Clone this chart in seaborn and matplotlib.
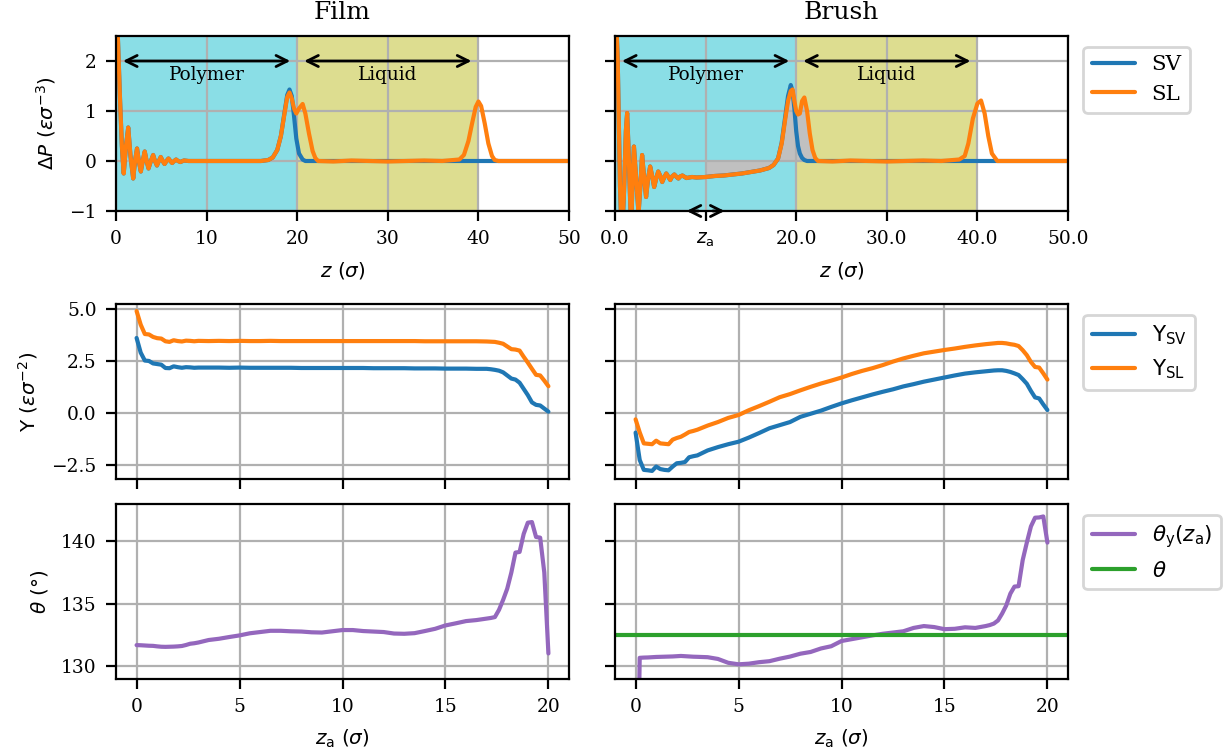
import matplotlib
matplotlib.use("Agg")
import matplotlib.pyplot as plt
import numpy as np
import seaborn as sns

# ---- pressure profiles, Delta P vs z (film) ----
film_z = [0.0, 0.2, 0.45, 0.65, 0.85, 1.1, 1.35, 1.6, 1.9, 2.1, 2.32, 2.52, 2.74, 2.95,
          3.17, 3.38, 3.59, 3.85, 4.1, 4.3, 4.52, 4.73, 4.94, 5.15, 5.36, 5.57, 5.79, 6.0,
          6.2, 6.42, 6.63, 6.85, 7.1, 7.5, 8.0, 10.0, 12.0, 14.0, 16.0, 16.8, 17.3, 17.8,
          18.2, 18.6, 18.9, 19.15, 19.4, 19.65, 19.9, 20.2, 20.6, 20.9, 21.3, 21.7, 22.0,
          22.3, 24.0, 26.0, 28.0, 30.0, 32.0, 34.0, 36.0, 37.9, 38.4, 38.9, 39.3, 39.7,
          40.0, 40.3, 40.7, 41.1, 41.5, 41.8, 42.2, 45.0, 50.0]
film_sl = [3.5, 2.5, 1.2, 0.3, -0.25, 0.3, 0.67, 0.1, -0.35, 0.0, 0.25, 0.0, -0.21, 0.0,
           0.19, 0.0, -0.15, 0.0, 0.12, 0.0, -0.09, 0.0, 0.08, 0.0, -0.06, 0.0, 0.05, 0.0,
           -0.04, 0.0, 0.03, 0.0, -0.02, 0.01, 0.0, 0.0, 0.0, 0.0, 0.0, 0.02, 0.07, 0.22,
           0.5, 0.95, 1.28, 1.37, 1.25, 1.05, 0.95, 1.05, 1.14, 0.95, 0.55, 0.2, 0.06,
           0.0, -0.01, 0.01, 0.0, -0.01, 0.0, 0.01, 0.0, 0.03, 0.12, 0.4, 0.75, 1.08,
           1.19, 1.1, 0.75, 0.35, 0.1, 0.02, 0.0, 0.0, 0.0]
film_sv = [3.5, 2.5, 1.2, 0.3, -0.25, 0.3, 0.67, 0.1, -0.35, 0.0, 0.25, 0.0, -0.21, 0.0,
           0.19, 0.0, -0.15, 0.0, 0.12, 0.0, -0.09, 0.0, 0.08, 0.0, -0.06, 0.0, 0.05, 0.0,
           -0.04, 0.0, 0.03, 0.0, -0.02, 0.01, 0.0, 0.0, 0.0, 0.0, 0.0, 0.02, 0.07, 0.22,
           0.5, 0.97, 1.32, 1.43, 1.3, 0.9, 0.45, 0.15, 0.03, 0.0, 0.0, 0.0, 0.0,
           0.0, 0.0, 0.0, 0.0, 0.0, 0.0, 0.0, 0.0, 0.0, 0.0, 0.0, 0.0, 0.0,
           0.0, 0.0, 0.0, 0.0, 0.0, 0.0, 0.0, 0.0, 0.0]

# ---- pressure profiles, Delta P vs z (brush) ----
brush_z = [0.0, 0.3, 0.55, 0.76, 1.0, 1.2, 1.34, 1.5, 1.78, 1.95, 2.09, 2.35, 2.6, 2.8,
           2.99, 3.2, 3.43, 3.65, 3.88, 4.1, 4.32, 4.55, 4.77, 5.0, 5.21, 5.45, 5.66, 5.9,
           6.1, 6.3, 6.55, 6.8, 7.0, 7.2, 7.44, 7.7, 7.89, 8.5, 9.0, 10.0, 11.0, 12.0,
           13.0, 14.0, 15.0, 16.0, 17.0, 17.5, 18.0, 18.4, 18.8, 19.1, 19.4, 19.6, 19.8,
           20.0, 20.2, 20.4, 20.65, 20.9, 21.2, 21.5, 21.8, 22.1, 22.4, 24.0, 26.0, 28.0,
           30.0, 32.0, 34.0, 36.0, 38.0, 38.6, 39.0, 39.5, 40.0, 40.4, 40.8, 41.2, 41.6,
           42.2, 45.0, 50.0]
brush_sl = [3.5, 2.0, -0.5, -1.6, -0.6, 0.6, 0.96, 0.2, -1.4, -0.3, 0.29, -0.4, -1.05, -0.5,
            0.12, -0.3, -0.72, -0.35, -0.11, -0.3, -0.52, -0.35, -0.21, -0.3, -0.42, -0.32, -0.25, -0.32,
            -0.38, -0.31, -0.27, -0.32, -0.35, -0.31, -0.29, -0.32, -0.34, -0.32, -0.33, -0.32, -0.30, -0.29,
            -0.27, -0.25, -0.22, -0.19, -0.14, -0.08, 0.05, 0.35, 0.85, 1.2, 1.4, 1.43, 1.2,
            1.0, 0.93, 0.95, 1.2, 1.27, 1.0, 0.55, 0.22, 0.06, 0.0, -0.01, 0.01, 0.0,
            -0.01, 0.0, 0.01, 0.0, 0.03, 0.1, 0.35, 0.85, 1.15, 1.21, 0.95, 0.5, 0.15,
            0.0, 0.0, 0.0]
brush_sv = [3.5, 2.0, -0.5, -1.6, -0.6, 0.6, 0.96, 0.2, -1.4, -0.3, 0.29, -0.4, -1.05, -0.5,
            0.12, -0.3, -0.72, -0.35, -0.11, -0.3, -0.52, -0.35, -0.21, -0.3, -0.42, -0.32, -0.25, -0.32,
            -0.38, -0.31, -0.27, -0.32, -0.35, -0.31, -0.29, -0.32, -0.34, -0.32, -0.33, -0.32, -0.30, -0.29,
            -0.27, -0.25, -0.22, -0.19, -0.14, -0.08, 0.05, 0.37, 0.9, 1.3, 1.52, 1.4, 1.05,
            0.6, 0.3, 0.15, 0.06, 0.02, 0.0, 0.0, 0.0, 0.0, 0.0, 0.0, 0.0, 0.0,
            0.0, 0.0, 0.0, 0.0, 0.0, 0.0, 0.0, 0.0, 0.0, 0.0, 0.0, 0.0, 0.0,
            0.0, 0.0, 0.0]

# regions marked on the profiles
regions = [("Polymer", 0, 20, "tab:cyan"), ("Liquid", 20, 40, "tab:olive")]
za_marker = 10.0
fill_end = 22.4

# ---- surface tensions and angles vs z_a ----
za = [0.0, 0.2, 0.4, 0.6, 0.8, 1.0, 1.2, 1.4, 1.6, 1.8, 2.0, 2.2, 2.4, 2.6, 2.8, 3.0,
      3.5, 4.0, 4.5, 5.0, 5.5, 6.0, 6.5, 7.0, 7.5, 8.0, 8.5, 9.0, 9.5, 10.0, 10.5, 11.0,
      11.5, 12.0, 12.5, 13.0, 13.5, 14.0, 14.5, 15.0, 15.5, 16.0, 16.5, 17.0,
      17.2, 17.4, 17.6, 17.8, 18.0, 18.2, 18.4, 18.6, 18.8, 19.0, 19.2, 19.4, 19.6, 19.8, 20.0]

film_ysl = [4.91, 4.25, 3.8, 3.78, 3.66, 3.6, 3.58, 3.45, 3.42, 3.5, 3.46, 3.44, 3.48, 3.47, 3.45, 3.47,
            3.46, 3.47, 3.46, 3.47, 3.46, 3.46, 3.47, 3.46, 3.46, 3.46, 3.46, 3.46, 3.46, 3.46, 3.46, 3.46,
            3.46, 3.46, 3.46, 3.46, 3.46, 3.45, 3.45, 3.45, 3.45, 3.45, 3.45, 3.44,
            3.43, 3.42, 3.38, 3.33, 3.2, 3.07, 3.05, 3.0, 2.7, 2.42, 2.12, 1.83, 1.8, 1.55, 1.28]
film_ysv = [3.61, 2.9, 2.52, 2.5, 2.38, 2.35, 2.32, 2.16, 2.15, 2.24, 2.2, 2.17, 2.2, 2.19, 2.17, 2.18,
            2.18, 2.18, 2.17, 2.18, 2.17, 2.17, 2.17, 2.17, 2.17, 2.16, 2.16, 2.16, 2.16, 2.16, 2.16, 2.16,
            2.15, 2.15, 2.15, 2.15, 2.14, 2.14, 2.14, 2.13, 2.13, 2.13, 2.12, 2.12,
            2.1, 2.07, 2.03, 1.95, 1.8, 1.65, 1.6, 1.45, 1.15, 0.85, 0.5, 0.38, 0.35, 0.2, 0.05]
brush_ysl = [-0.32, -0.95, -1.48, -1.5, -1.52, -1.35, -1.48, -1.5, -1.52, -1.3, -1.22, -1.16, -1.05, -0.93, -0.88, -0.82,
             -0.62, -0.45, -0.25, -0.11, 0.12, 0.32, 0.53, 0.75, 0.9, 1.08, 1.25, 1.41, 1.55, 1.7, 1.87, 2.02,
             2.15, 2.3, 2.47, 2.62, 2.75, 2.87, 2.95, 3.03, 3.1, 3.18, 3.25, 3.31,
             3.33, 3.35, 3.37, 3.37, 3.35, 3.31, 3.28, 3.22, 3.02, 2.78, 2.45, 2.21, 2.18, 1.9, 1.6]
brush_ysv = [-0.96, -2.28, -2.76, -2.78, -2.81, -2.6, -2.72, -2.76, -2.78, -2.6, -2.44, -2.42, -2.38, -2.15, -2.1, -2.06,
             -1.82, -1.66, -1.52, -1.4, -1.2, -0.98, -0.75, -0.6, -0.45, -0.2, -0.05, 0.1, 0.28, 0.45, 0.6, 0.74,
             0.88, 1.01, 1.13, 1.27, 1.38, 1.5, 1.6, 1.7, 1.8, 1.89, 1.95, 2.0,
             2.02, 2.04, 2.05, 2.05, 2.02, 1.97, 1.9, 1.82, 1.62, 1.4, 1.05, 0.74, 0.69, 0.4, 0.13]

film_theta = [131.67, 131.66, 131.64, 131.62, 131.61, 131.57, 131.54, 131.53, 131.54, 131.55, 131.57, 131.6,
              131.68, 131.78, 131.82, 131.88,
              132.08, 132.18, 132.32, 132.45, 132.62, 132.72, 132.82, 132.82, 132.78, 132.76, 132.7, 132.68,
              132.78, 132.88, 132.88, 132.8, 132.76, 132.72, 132.6, 132.58, 132.63, 132.8, 132.98, 133.25,
              133.42, 133.6, 133.68, 133.8,
              133.85, 133.92, 134.5, 135.3, 136.2, 137.5, 139.1, 139.15, 140.6, 141.5, 141.55, 140.35,
              140.3, 137.5, 131.0]
brush_theta = [110.0, 130.65, 130.67, 130.68, 130.7, 130.72, 130.73, 130.74, 130.75, 130.76, 130.78, 130.8,
               130.78, 130.76, 130.74, 130.73,
               130.7, 130.56, 130.25, 130.13, 130.18, 130.3, 130.38, 130.58, 130.75, 130.98, 131.12, 131.4,
               131.58, 132.0, 132.15, 132.3, 132.45, 132.58, 132.68, 132.78, 133.05, 133.2, 133.12, 132.95,
               132.98, 133.1, 133.05, 133.2,
               133.28, 133.4, 133.65, 134.2, 134.85, 135.8, 136.37, 136.4, 138.5, 139.9, 141.2, 141.9,
               141.92, 142.0, 139.9]
brush_theta_mean = 132.45

sns.set_theme(style="ticks", rc={
    "axes.edgecolor": "black", "axes.labelcolor": "black", "text.color": "black",
    "xtick.color": "black", "ytick.color": "black", "axes.linewidth": 0.8,
    "xtick.labelsize": 6.7, "ytick.labelsize": 6.7, "axes.labelsize": 7.2,
    "axes.titlesize": 9, "legend.fontsize": 7.7, "font.size": 7,
    "axes.grid": True, "grid.color": "#b0b0b0", "grid.linewidth": 0.8,
    "axes.axisbelow": "line", "lines.linewidth": 1.5,
    "xtick.major.size": 3.5, "ytick.major.size": 3.5,
    "xtick.major.width": 0.8, "ytick.major.width": 0.8,
    "legend.frameon": True, "legend.framealpha": 0.8, "legend.edgecolor": "0.8",
    "legend.fancybox": True,
})
plt.rcParams["font.family"] = "serif"
plt.rcParams["font.serif"] = ["DejaVu Serif"]
plt.rcParams["mathtext.fontset"] = "dejavusans"

fig = plt.figure(figsize=(6.16, 3.775), dpi=200)
W, H = 1232, 755
col_left = [116, 615]
col_w = 453
row_top = [36, 304, 504]
row_h = 175
axes = [[fig.add_axes([col_left[c] / W, 1 - (row_top[r] + row_h) / H, col_w / W, row_h / H])
         for c in range(2)] for r in range(3)]

# top row: pressure profiles
profiles = [(film_z, film_sv, film_sl, "Film"), (brush_z, brush_sv, brush_sl, "Brush")]
for c, (z, sv, sl, title) in enumerate(profiles):
    ax = axes[0][c]
    for name, lo, hi, color in regions:
        ax.axvspan(lo, hi, color=color, alpha=0.5, lw=0, zorder=1)
        ax.annotate("", xy=(lo, 2), xytext=(hi, 2),
                    arrowprops=dict(arrowstyle="<->", color="black", lw=1.0,
                                    shrinkA=2.5, shrinkB=2.5, mutation_scale=10))
        ax.text((lo + hi) / 2, 1.72, name, ha="center", va="center", fontsize=6.6)
    sns.lineplot(x=z, y=sv, ax=ax, color="tab:blue", label="SV", sort=False, estimator=None)
    sns.lineplot(x=z, y=sl, ax=ax, color="tab:orange", label="SL", sort=False, estimator=None)
    ax.set_xlim(0, 50)
    ax.set_ylim(-1, 2.5)
    ax.set_xticks([0, 10, 20, 30, 40, 50])
    ax.set_yticks([-1, 0, 1, 2])
    ax.set_title(title)
    ax.set_xlabel(r"$z\ (\sigma)$")

axes[0][0].set_ylabel(r"$\Delta P\ (\varepsilon\sigma^{-3})$")
axes[0][0].get_legend().remove()
axes[0][1].tick_params(labelleft=False)
axes[0][1].set_ylabel("")

# shaded region above z_a on the brush profile
bz = np.array(brush_z)
axes[0][1].fill_between(bz, brush_sl, 0, where=(bz >= za_marker) & (bz <= fill_end),
                        color="silver", lw=0, zorder=1.2)
ticks = [0, 10, 20, 30, 40, 50]
axes[0][1].set_xticklabels([r"$z_\mathrm{a}$" if t == za_marker else f"{t:.1f}" for t in ticks])
for end, start in [(7.9, 9.2), (12.1, 10.8)]:
    axes[0][1].annotate("", xy=(end, -1), xytext=(start, -1),
                        arrowprops=dict(arrowstyle="->", color="black", lw=1.0,
                                        shrinkA=0, shrinkB=0, mutation_scale=10))

# middle row: surface tensions
for c, (ysv, ysl) in enumerate([(film_ysv, film_ysl), (brush_ysv, brush_ysl)]):
    ax = axes[1][c]
    sns.lineplot(x=za, y=ysv, ax=ax, color="tab:blue", label=r"$\mathrm{Y_{SV}}$",
                 sort=False, estimator=None)
    sns.lineplot(x=za, y=ysl, ax=ax, color="tab:orange", label=r"$\mathrm{Y_{SL}}$",
                 sort=False, estimator=None)
    ax.set_xlim(-1, 21)
    ax.set_ylim(-3.2, 5.25)
    ax.set_xticks([0, 5, 10, 15, 20])
    ax.set_yticks([-2.5, 0, 2.5, 5.0])
    ax.tick_params(labelbottom=False)
    ax.set_xlabel("")
axes[1][0].set_ylabel(r"$\mathrm{Y}\ (\varepsilon\sigma^{-2})$")
axes[1][0].get_legend().remove()
axes[1][1].tick_params(labelleft=False)

# bottom row: contact angles
for c, theta in enumerate([film_theta, brush_theta]):
    ax = axes[2][c]
    sns.lineplot(x=za, y=theta, ax=ax, color="tab:purple",
                 label=r"$\theta_\mathrm{y}(z_\mathrm{a})$", sort=False, estimator=None)
    ax.set_xlim(-1, 21)
    ax.set_ylim(128.95, 143.0)
    ax.set_xticks([0, 5, 10, 15, 20])
    ax.set_yticks([130, 135, 140])
    ax.set_xlabel(r"$z_\mathrm{a}\ (\sigma)$")
axes[2][1].axhline(brush_theta_mean, color="tab:green", lw=1.5, label=r"$\theta$")
axes[2][0].set_ylabel(r"$\theta\ (\degree)$")
axes[2][0].get_legend().remove()
axes[2][1].tick_params(labelleft=False)

for r in range(3):
    ax = axes[r][1]
    ax.legend(loc="upper left", bbox_to_anchor=(1.01, 1.0))

for row in axes:
    for ax in row:
        ax.grid(True)
        for s in ax.spines.values():
            s.set_visible(True)

fig.savefig("out.png", dpi=200)
